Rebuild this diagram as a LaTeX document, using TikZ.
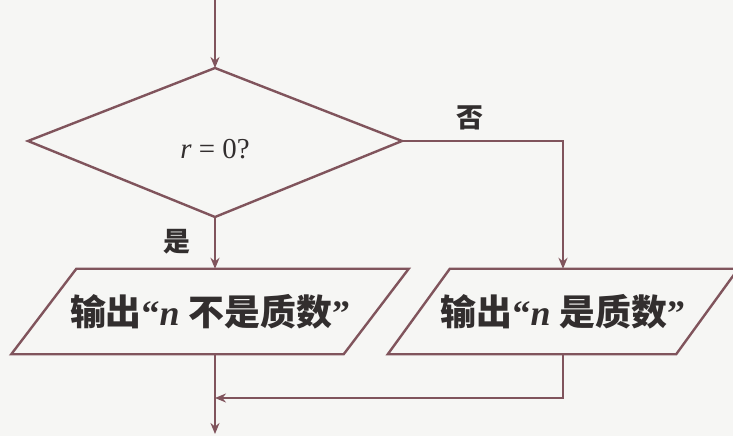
\documentclass[tikz,border=0pt]{standalone}
\usepackage{fontspec}
\setmainfont{Liberation Serif}
\newfontfamily\cjk{Noto Sans CJK SC}
\usetikzlibrary{arrows.meta}

\definecolor{flowline}{RGB}{128,84,92}
\definecolor{flowtext}{RGB}{50,46,46}
\definecolor{paper}{RGB}{246,246,244}

\begin{document}
\begin{tikzpicture}[%
x=1bp, y=-1bp,
line width=2.4bp,
flow/.style={draw=flowline, -{Stealth[length=11bp,width=9bp]}},
outline/.style={draw=flowline, line join=miter},
decision/.style={inner sep=0pt, text=flowtext, font=\fontsize{29}{29}\selectfont},
outbox/.style={minimum height=83bp, inner sep=0pt, text=flowtext,
  font=\bfseries\fontsize{36}{36}\selectfont},
branch/.style={text=flowtext, inner sep=0pt, font=\cjk\bfseries\fontsize{27}{27}\selectfont},
]
\fill [paper] (0,0) rectangle (733,436);
\useasboundingbox (0,0) rectangle (733,436);
%% decision;
\node [decision] (test) at (215,149) {\textit{r} = 0?};
\coordinate (dtop) at (215,68);
\coordinate (dleft) at (28,141);
\coordinate (dright) at (402,141);
\coordinate (dbottom) at (215,217);
\draw [outline] (dtop) -- (dright) -- (dbottom) -- (dleft) -- cycle;
%% outputs;
\node [outbox, minimum width=330bp] (notprime) at (210,311.5)
  {{\cjk 输出}“\textit{n} {\cjk 不是质数}”};
\draw [outline] ([xshift=-32.5bp]notprime.south west) -- ([xshift=32.5bp]notprime.north west)
  -- ([xshift=32.5bp]notprime.north east) -- ([xshift=-32.5bp]notprime.south east) -- cycle;
\node [outbox, minimum width=286bp] (prime) at (563,311.5)
  {{\cjk 输出}“\textit{n} {\cjk 是质数}”};
\draw [outline] ([xshift=-31bp]prime.south west) -- ([xshift=31bp]prime.north west)
  -- ([xshift=31bp]prime.north east) -- ([xshift=-31bp]prime.south east) -- cycle;
%% free ends;
\coordinate (entry) at (215,0);
\coordinate (merge) at (215,398);
\coordinate (exit) at (215,434);
%% connectors;
\draw [flow] (entry) -- (dtop);
\draw [flow] (dbottom) -- (dbottom |- notprime.north);
\draw [flow] (dright) -| (prime.north);
\draw [flow] (prime.south) |- (merge);
\draw [flow] (dbottom |- notprime.south) -- (exit);
%% labels;
\node [branch] (yes) at (177,242) {是};
\node [branch] (no) at (470,118) {否};
\end{tikzpicture}
\end{document}
